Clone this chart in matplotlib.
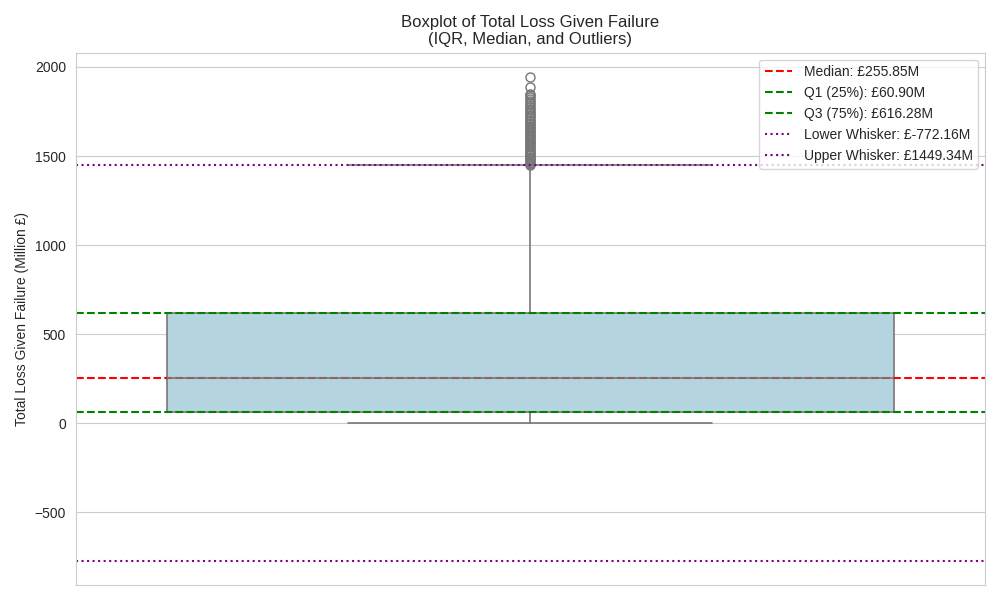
import matplotlib
matplotlib.use("Agg")
import matplotlib.pyplot as plt
import seaborn as sns

# summary values (Million £)
median = 255.85
q1 = 60.90
q3 = 616.28
lower_whisker = -772.16
upper_whisker = 1449.34
data_min = 0.0
data_cap_high = 1449.0

# outliers above the upper whisker
outliers = [1944, 1888, 1850, 1840, 1829, 1818, 1808, 1797, 1786, 1776,
            1766, 1757, 1748, 1740, 1731, 1722, 1714, 1705, 1697, 1688,
            1680, 1671, 1663, 1655, 1646, 1638, 1630, 1621, 1613, 1605,
            1597, 1589, 1581, 1573, 1565, 1557, 1549, 1541, 1533, 1525,
            1518, 1510, 1503, 1496, 1489, 1482, 1475, 1468, 1461, 1455, 1450]

sns.set_style("whitegrid")
plt.rcParams["font.family"] = ["Liberation Sans", "DejaVu Sans"]

fig, ax = plt.subplots(figsize=(10, 6), dpi=100)

stats = [{
    "med": median, "q1": q1, "q3": q3,
    "whislo": data_min, "whishi": data_cap_high,
    "fliers": outliers,
}]
box_color = sns.desaturate("lightblue", 0.75)
ax.bxp(stats, positions=[0], widths=0.8, patch_artist=True,
       boxprops=dict(facecolor=box_color, edgecolor="#777777", linewidth=1.2),
       medianprops=dict(color="#777777", linewidth=1.2),
       whiskerprops=dict(color="#777777", linewidth=1.2),
       capprops=dict(color="#777777", linewidth=1.2),
       capwidths=0.4,
       flierprops=dict(marker="o", markerfacecolor="none",
                       markeredgecolor="#777777", markersize=6.5))
ax.set_xlim(-0.5, 0.5)

ax.axhline(median, color="red", linestyle="--", label=f"Median: £{median:.2f}M")
ax.axhline(q1, color="green", linestyle="--", label=f"Q1 (25%): £{q1:.2f}M")
ax.axhline(q3, color="green", linestyle="--", label=f"Q3 (75%): £{q3:.2f}M")
ax.axhline(lower_whisker, color="purple", linestyle=":", label=f"Lower Whisker: £{lower_whisker:.2f}M")
ax.axhline(upper_whisker, color="purple", linestyle=":", label=f"Upper Whisker: £{upper_whisker:.2f}M")

ax.set_xticks([])
ax.set_title("Boxplot of Total Loss Given Failure\n(IQR, Median, and Outliers)")
ax.set_ylabel("Total Loss Given Failure (Million £)")
ax.legend(loc="upper right")

plt.tight_layout()
plt.savefig("out.png")
